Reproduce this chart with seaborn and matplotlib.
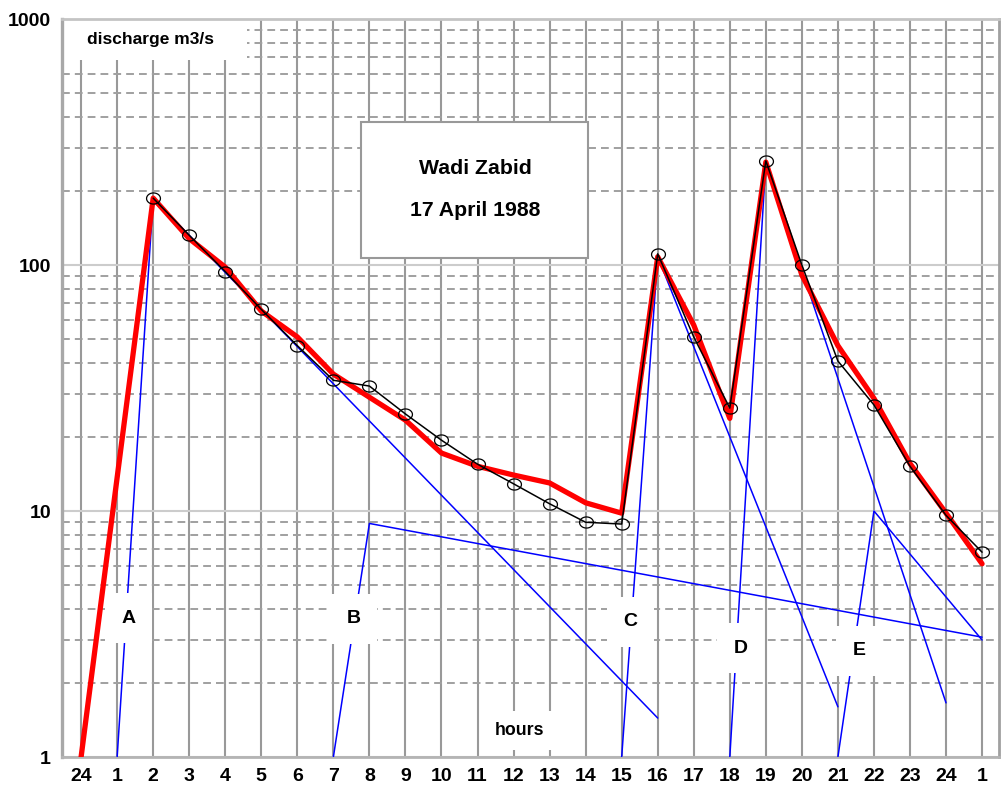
import numpy as np
import matplotlib
matplotlib.use("Agg")
import matplotlib.pyplot as plt
from matplotlib.path import Path
from matplotlib.patches import Rectangle
from matplotlib.ticker import LogLocator, NullFormatter, FixedLocator
import seaborn as sns

# hour positions and their clock labels
hour_pos = list(range(26))
hour_labels = ["24"] + [str(h) for h in range(1, 25)] + ["1"]

# observed discharge (black, circles)
obs_x = list(range(2, 26))
obs_q = [187, 132, 94, 66, 47, 34, 32.2, 24.8, 19.4, 15.5, 12.9, 10.7, 9.0, 8.85,
         111, 51, 26.2, 265, 100, 40.7, 27, 15.2, 9.6, 6.8]

# computed discharge (red)
calc_x = [0] + list(range(2, 26))
calc_q = [1, 187, 128, 98, 65, 51, 36, 29, 23.4, 17.2, 15.2, 14.0, 13.0, 10.8, 9.8,
          108, 57, 23.8, 262, 91, 47, 28.7, 15.6, 9.8, 6.1]

# component hydrographs (blue)
comp_names = ["A", "B", "C", "D", "E"]
comp_x = [[1, 2, 16], [7, 8, 25], [15, 16, 21], [18, 19, 24], [21, 22, 25]]
comp_q = [[1, 187, 1.44], [1, 8.9, 3.07], [1, 108, 1.6], [1, 262, 1.66], [1, 10, 2.99]]
comp_label_x = [1.31, 7.56, 15.25, 18.31, 21.58]
comp_label_q = [3.67, 3.64, 3.54, 2.77, 2.70]

sns.set_style("white")
plt.rcParams["font.family"] = ["Liberation Sans", "DejaVu Sans"]
plt.rcParams["font.weight"] = "bold"
plt.rcParams["text.color"] = "black"
plt.rcParams["xtick.color"] = "black"
plt.rcParams["ytick.color"] = "black"

fig = plt.figure(figsize=(10.01, 7.94), dpi=100)
ax = fig.add_axes([62 / 1001, 37 / 794, 937 / 1001, 738 / 794])

for xs, qs in zip(comp_x, comp_q):
    sns.lineplot(x=xs, y=qs, ax=ax, color="#0000ff", lw=1.1, errorbar=None, zorder=3)

sns.lineplot(x=calc_x, y=calc_q, ax=ax, color="#ff0000", lw=3.8, errorbar=None, zorder=4)

# slightly flattened circle marker
t = np.linspace(0, 2 * np.pi, 40)
ellipse = Path(np.column_stack([1.25 * np.cos(t), np.sin(t)]), closed=True)
sns.lineplot(x=obs_x, y=obs_q, ax=ax, color="black", lw=1.1, errorbar=None, zorder=5,
             marker=ellipse, markersize=10, markerfacecolor="none",
             markeredgecolor="black", markeredgewidth=0.9)

ax.set_yscale("log")
ax.set_ylim(1, 1000)
ax.set_xlim(-0.53, 25.47)
ax.xaxis.set_major_locator(FixedLocator(hour_pos))
ax.set_xticks(hour_pos)
ax.set_xticklabels(hour_labels)
ax.set_yticks([1, 10, 100, 1000])
ax.set_yticklabels(["1", "10", "100", "1000"])
ax.yaxis.set_minor_locator(LogLocator(base=10, subs=np.arange(2, 10)))
ax.yaxis.set_minor_formatter(NullFormatter())
ax.tick_params(axis="both", which="both", length=0, labelsize=14, labelcolor="black")
ax.tick_params(axis="y", pad=8)
ax.tick_params(axis="x", pad=8)
for lbl in ax.get_xticklabels() + ax.get_yticklabels():
    lbl.set_fontweight("bold")

ax.set_axisbelow(True)
ax.grid(axis="x", which="major", color="#999999", lw=1.5, ls="-")
ax.grid(axis="y", which="major", color="#cccccc", lw=1.5, ls="-")
ax.grid(axis="y", which="minor", color="#a0a0a0", lw=1.4, ls=(0, (4, 2.6)))
ax.set_xlabel("")
ax.set_ylabel("")

ax.spines["left"].set_color("#a8a8a8")
ax.spines["left"].set_linewidth(2.4)
ax.spines["bottom"].set_color("#b4b4b4")
ax.spines["bottom"].set_linewidth(2.0)
ax.spines["top"].set_color("#c4c4c4")
ax.spines["top"].set_linewidth(2.0)
ax.spines["right"].set_color("#a0a0a0")
ax.spines["right"].set_linewidth(2.0)

box = dict(facecolor="white", edgecolor="none", boxstyle="square,pad=0.85")
for name, lx, lq in zip(comp_names, comp_label_x, comp_label_q):
    ax.text(lx, lq, name, ha="center", va="center", fontsize=14, fontweight="bold",
            color="black", bbox=box, zorder=6)

ax.text(12.17, 1.28, "hours", ha="center", va="center", fontsize=12.8,
        fontweight="bold", color="black",
        bbox=dict(facecolor="white", edgecolor="none", boxstyle="square,pad=0.6"),
        zorder=6)

# white patch behind the y-axis caption
ax.add_patch(Rectangle((1 / 937, (757 - 60) / 738), 184 / 937, 40 / 738,
                       transform=ax.transAxes, facecolor="white", edgecolor="none",
                       zorder=2))
ax.text(1.92, 822, "discharge m3/s", ha="center", va="center", fontsize=12.5,
        fontweight="bold", color="black", zorder=6)

# title box
ax.add_patch(Rectangle((0.319, 0.676), 0.242, 0.184, transform=ax.transAxes,
                       facecolor="white", edgecolor="#999999", lw=1.5, zorder=6))
ax.text(0.441, 0.798, "Wadi Zabid", transform=ax.transAxes, ha="center", va="center",
        fontsize=15.3, fontweight="bold", color="black", zorder=7)
ax.text(0.441, 0.741, "17 April 1988", transform=ax.transAxes, ha="center", va="center",
        fontsize=15.3, fontweight="bold", color="black", zorder=7)

fig.savefig("out.png", dpi=100)
